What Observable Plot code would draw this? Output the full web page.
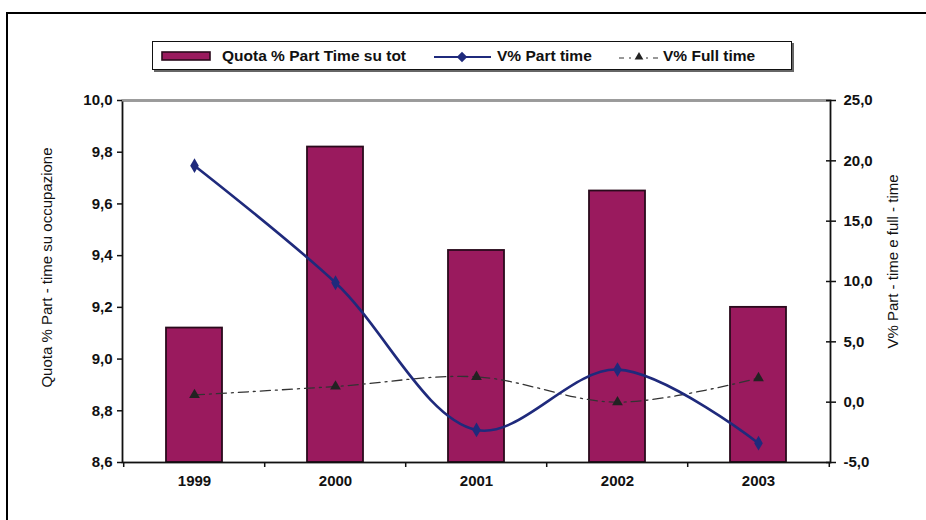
<!DOCTYPE html>
<html>
<head>
<meta charset="utf-8">
<script src="https://cdn.jsdelivr.net/npm/d3@7"></script>
<script src="https://cdn.jsdelivr.net/npm/@observablehq/plot@0.6"></script>
<style>
  html, body { margin: 0; padding: 0; background: #fff; overflow: hidden; }
  body { width: 926px; height: 520px; position: relative; font-family: "Liberation Sans", Arial, sans-serif; }
  #frame { position: absolute; left: 6px; top: 12px; width: 1000px; height: 600px; border: 2px solid #000; box-sizing: border-box; }
  #legend { position: absolute; left: 152px; top: 41px; width: 640px; height: 29px; border: 1px solid #111; box-sizing: border-box; box-shadow: 2px 2px 0 #666; background: #fff; }
  #legend .item { position: absolute; top: 0; height: 27px; display: flex; align-items: center; font-size: 15.5px; font-weight: bold; color: #111; white-space: nowrap; }
  #legend svg { display: block; }
  #chart { position: absolute; left: 0; top: 70px; }
</style>
</head>
<body>
<div id="frame"></div>
<div id="legend"></div>
<div id="chart"></div>
<script>
// Anni e serie
const years = ["1999", "2000", "2001", "2002", "2003"];
const quotaPartTime = [9.12, 9.82, 9.42, 9.65, 9.20];   // asse sinistro
const varPartTime = [19.6, 9.9, -2.3, 2.7, -3.4];       // asse destro
const varFullTime = [0.6, 1.3, 2.1, 0.0, 2.0];          // asse destro
const leftTicks = [8.6, 8.8, 9.0, 9.2, 9.4, 9.6, 9.8, 10.0];
const rightTicks = [-5, 0, 5, 10, 15, 20, 25];
const seriesNames = ["Quota % Part Time su tot", "V% Part time", "V% Full time"];

const barColor = "#9a1a5e";
const ptColor = "#1f2a7c";
const ftColor = "#333333";

// Asse destro (-5..25) riportato sulla scala sinistra (8.6..10)
const toLeft = d3.scaleLinear().domain([-5, 25]).range([8.6, 10.0]);
const fmt1 = v => v.toFixed(1).replace(".", ",");

const rows = years.map((y, i) => ({
  year: y, quota: quotaPartTime[i], pt: varPartTime[i], ft: varFullTime[i]
}));

const width = 926, height = 450;
const marginLeft = 122, marginRight = 96;
const step = (width - marginLeft - marginRight) / years.length;

const chart = Plot.plot({
  width, height,
  marginLeft, marginRight, marginTop: 30, marginBottom: 58,
  style: { fontFamily: "'Liberation Sans', Arial, sans-serif", fontSize: "15px", color: "#111", background: "transparent", overflow: "visible" },
  x: { domain: years, paddingInner: 0.6, paddingOuter: 0.3, axis: null },
  y: { domain: [8.6, 10.0], axis: null },
  marks: [
    Plot.barY(rows, { x: "year", y1: () => 8.6, y2: "quota", fill: barColor, stroke: "#2a0a1c", strokeWidth: 1.8 }),
    Plot.frame({ stroke: "#111", strokeWidth: 1.8 }),
    Plot.ruleY([10.0], { stroke: "#9a9a9a", strokeWidth: 2 }),
    // asse sinistro
    Plot.axisY(leftTicks, { anchor: "left", label: null, tickSize: 5, tickPadding: 5, tickFormat: fmt1, fontWeight: "bold", strokeWidth: 1.5 }),
    // asse destro
    Plot.axisY(rightTicks.map(toLeft), { anchor: "right", label: null, tickSize: 5, tickPadding: 8, tickFormat: v => fmt1(toLeft.invert(v)), fontWeight: "bold", strokeWidth: 1.5 }),
    Plot.axisY(rightTicks.map(toLeft), { anchor: "right", label: null, tickSize: 5, dx: -5, text: null, strokeWidth: 1.5 }),
    // asse x: etichette al centro, tacche ai confini delle categorie
    Plot.axisX(years, { anchor: "bottom", label: null, tickSize: 0, tickPadding: 13, fontWeight: "bold" }),
    Plot.axisX(years, { anchor: "bottom", label: null, tickSize: 5, text: null, dx: -step / 2, strokeWidth: 1.5 }),
    Plot.axisX([years[years.length - 1]], { anchor: "bottom", label: null, tickSize: 5, text: null, dx: step / 2, strokeWidth: 1.5 }),
    // titoli degli assi
    Plot.text(["Quota % Part - time su occupazione"], { frameAnchor: "left", textAnchor: "middle", dx: -75, dy: -14, rotate: -90, fontSize: 15, fill: "#111" }),
    Plot.text(["V% Part - time e full - time"], { frameAnchor: "right", textAnchor: "middle", dx: 63, dy: -20, rotate: -90, fontSize: 15, fill: "#111" }),
    // linee
    Plot.line(rows, { x: "year", y: d => toLeft(d.ft), curve: "catmull-rom", stroke: ftColor, strokeWidth: 1.3, strokeDasharray: "10,5,2,5" }),
    Plot.dot(rows, { x: "year", y: d => toLeft(d.ft), symbol: "triangle", r: 4, fill: "#222", stroke: "none" }),
    Plot.line(rows, { x: "year", y: d => toLeft(d.pt), curve: "catmull-rom", stroke: ptColor, strokeWidth: 2.6 }),
    Plot.dot(rows, { x: "year", y: d => toLeft(d.pt), symbol: "diamond", r: 4.5, fill: ptColor, stroke: "none" })
  ]
});
document.getElementById("chart").appendChild(chart);

// Legenda
const legend = d3.select("#legend");
const items = [
  { left: 8, w: 50, gap: 11, kind: "bar" },
  { left: 281, w: 57, gap: 6, kind: "pt" },
  { left: 464, w: 44, gap: 2, kind: "ft" }
];
items.forEach((it, i) => {
  const div = legend.append("div").attr("class", "item").style("left", it.left + "px");
  const svg = div.append("svg").attr("width", it.w).attr("height", 16).style("margin-right", it.gap + "px");
  if (it.kind === "bar") {
    svg.append("rect").attr("x", 1).attr("y", 4).attr("width", it.w - 2).attr("height", 8)
      .attr("fill", barColor).attr("stroke", "#2a0a1c").attr("stroke-width", 1.6);
  } else if (it.kind === "pt") {
    svg.append("line").attr("x1", 0).attr("x2", it.w).attr("y1", 9).attr("y2", 9)
      .attr("stroke", ptColor).attr("stroke-width", 2.2);
    svg.append("path").attr("d", d3.symbol(d3.symbolDiamond2, 70)()).attr("transform", "translate(28,9)").attr("fill", ptColor);
  } else {
    svg.append("line").attr("x1", 2).attr("x2", it.w).attr("y1", 10).attr("y2", 10)
      .attr("stroke", ftColor).attr("stroke-width", 1.2).attr("stroke-dasharray", "5,5,2,5");
    svg.append("path").attr("d", d3.symbol(d3.symbolTriangle2, 55)()).attr("transform", "translate(22,9)").attr("fill", "#222");
  }
  div.append("span").text(seriesNames[i]);
});
</script>
</body>
</html>
